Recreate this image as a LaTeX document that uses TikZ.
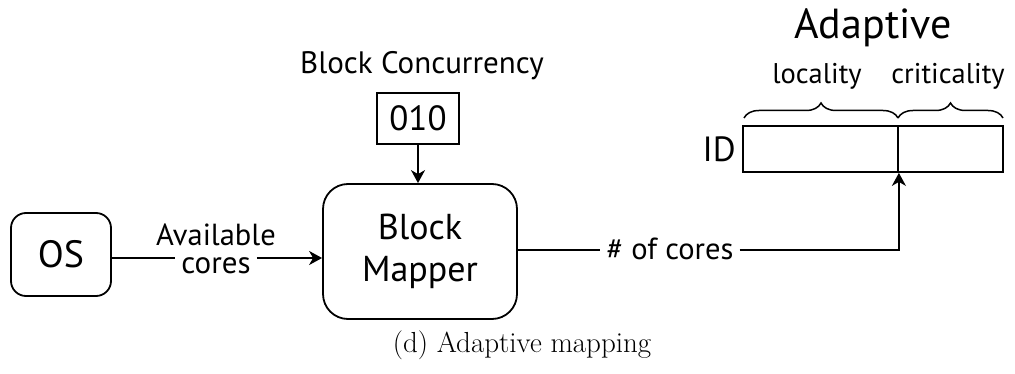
\documentclass[tikz,border=0pt]{standalone}
\usepackage{fontspec}
\newfontfamily\diagfont{PT Sans}
\usetikzlibrary{arrows.meta,decorations.pathreplacing}
\tikzset{
  ln/.style={line width=1.8pt},
  arr/.style={ln,-{Stealth[length=13pt,width=14pt,inset=4pt]}},
  rbox/.style={draw,ln,rounded corners=#1,inner sep=0pt},
  sbox/.style={draw,ln,inner sep=0pt},
  lbl/.style={font=\diagfont\fontsize{#1}{#1}\selectfont,inner sep=0pt},
  brc/.style={line width=1.5pt,decorate,decoration={brace,amplitude=15pt,raise=0pt}}
}
\begin{document}
\begin{tikzpicture}[x=1pt,y=-1pt]
\useasboundingbox (0,0) rectangle (1015,374);

% main blocks
\node[rbox=15pt,minimum width=100pt,minimum height=83pt,lbl=38] (os) at (61,254.5) {OS};
\node[rbox=25pt,minimum width=194pt,minimum height=135pt,inner sep=0pt,align=center,
      font=\diagfont\fontsize{36}{42}\selectfont] (mapper) at (420,251.5) {Block\\Mapper};

% block concurrency register
\node[sbox,minimum width=82pt,minimum height=51pt,lbl=35] (conc) at (418,118.5) {010};
\node[lbl=31] (conctitle) at (422,66) {Block Concurrency};

% ID register with its two fields
\node[sbox,minimum width=155pt,minimum height=46pt] (loc) at (820.5,149) {};
\node[sbox,minimum width=105pt,minimum height=46pt] (crit) at (950.5,149) {};
\node[lbl=35,anchor=east] (idl) at (736,149) {ID};
\draw[brc] (744,118) -- (898,118);
\draw[brc] (898,118) -- (1003,118);
\node[lbl=28.5] (locl) at (817,76) {locality};
\node[lbl=28.5] (critl) at (948,76) {criticality};
\node[lbl=42] (adapt) at (873,28) {Adaptive};

% connector labels
\node[lbl=30.5] (availl) at (216,235) {Available};
\node[lbl=31,inner xsep=6pt] (coresl) at (216,266) {cores};
\node[lbl=30.5,inner xsep=6pt] (ncores) at (670,249) {\# of cores};

% connectors
\draw[ln] (os.east |- 0,258) -- (coresl.west |- 0,258);
\draw[arr] (coresl.east |- 0,258) -- (mapper.west |- 0,258);
\draw[arr] (conc.south) -- (conc.south |- mapper.north);
\draw[ln] (mapper.east |- 0,250) -- (ncores.west |- 0,250);
\draw[arr] (ncores.east |- 0,250) -| (loc.south east);

% caption
\node[font=\fontsize{29}{29}\selectfont,inner sep=0pt] (cap) at (522,345) {(d) Adaptive mapping};
\end{tikzpicture}
\end{document}
